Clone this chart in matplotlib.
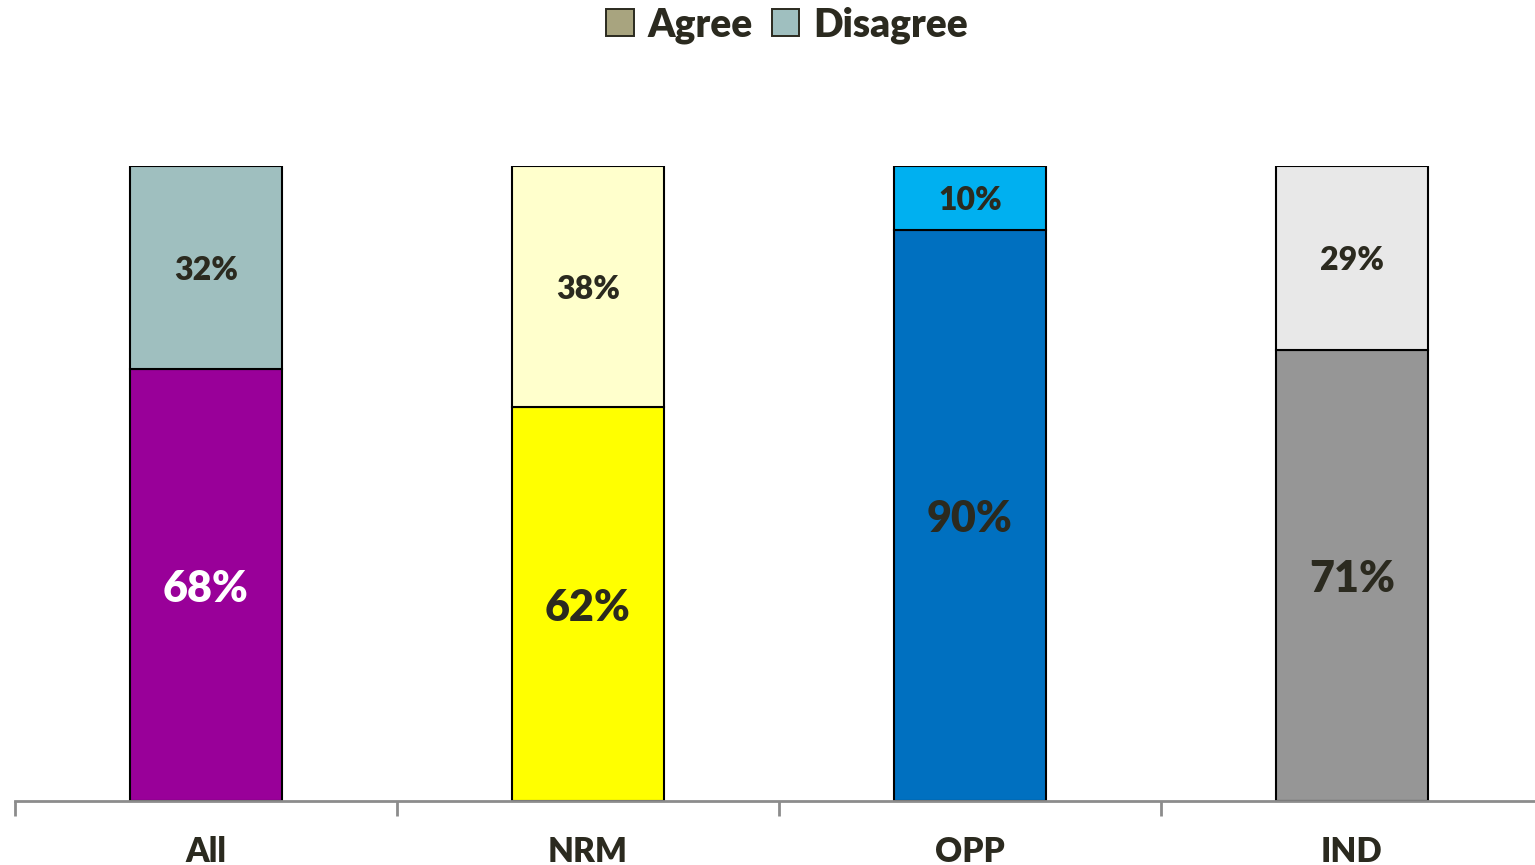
import numpy as np
import matplotlib.pyplot as plt
from matplotlib.patches import Patch

categories = ['All', 'NRM', 'OPP', 'IND']
agree = [68, 62, 90, 71]
disagree = [32, 38, 10, 29]

agree_colors = ['#990099', '#ffff00', '#0070c0', '#969696']
disagree_colors = ['#9fbfbf', '#ffffcc', '#00b0f0', '#e8e8e8']
agree_text = ['white', '#2b2a1f', '#2b2a1f', '#2b2a1f']
text_dark = '#2b2a1f'

plt.rcParams['font.family'] = ['Lato', 'DejaVu Sans']
wt = 'heavy'

fig = plt.figure(figsize=(15.35, 8.65), dpi=100)
ax = fig.add_axes([15 / 1535, 64 / 865, 1528 / 1535, 635 / 865])

x = np.arange(len(categories))
w = 0.40
ax.bar(x, agree, w, color=agree_colors, edgecolor='black', linewidth=1.5, zorder=2)
ax.bar(x, disagree, w, bottom=agree, color=disagree_colors, edgecolor='black',
       linewidth=1.5, zorder=2)

for i in range(len(categories)):
    ax.text(x[i], agree[i] / 2 - 0.6, f'{agree[i]}%', ha='center', va='center',
            fontsize=31, fontweight=wt, color=agree_text[i])
    ax.text(x[i], agree[i] + disagree[i] / 2 - 0.4, f'{disagree[i]}%', ha='center',
            va='center', fontsize=23, fontweight=wt, color=text_dark)

ax.set_xlim(-0.5, 3.5)
ax.set_ylim(0, 100)
ax.set_yticks([])
for s in ['top', 'right', 'left']:
    ax.spines[s].set_visible(False)
ax.spines['bottom'].set_color('#8c8c8c')
ax.spines['bottom'].set_linewidth(2)

ax.set_xticks(x)
ax.set_xticklabels(categories, fontsize=24, fontweight=wt, color=text_dark)
ax.tick_params(axis='x', which='major', length=0, pad=25)
ax.set_xticks(np.arange(-0.5, 3.0, 1.0), minor=True)
ax.tick_params(axis='x', which='minor', length=11, width=2, color='#8c8c8c')

handles = [Patch(facecolor='#a8a47f', edgecolor='#2b2a1f', linewidth=1.4),
           Patch(facecolor='#9fbfbf', edgecolor='#2b2a1f', linewidth=1.4)]
leg = fig.legend(handles, ['Agree', 'Disagree'], loc='upper center',
                 bbox_to_anchor=(787 / 1535, 1.033), ncol=2, frameon=False,
                 prop={'size': 28, 'weight': wt}, handlelength=0.7,
                 handleheight=0.7, handletextpad=0.35, columnspacing=0.5)
for t in leg.get_texts():
    t.set_color(text_dark)

fig.savefig('out.png', dpi=100)
